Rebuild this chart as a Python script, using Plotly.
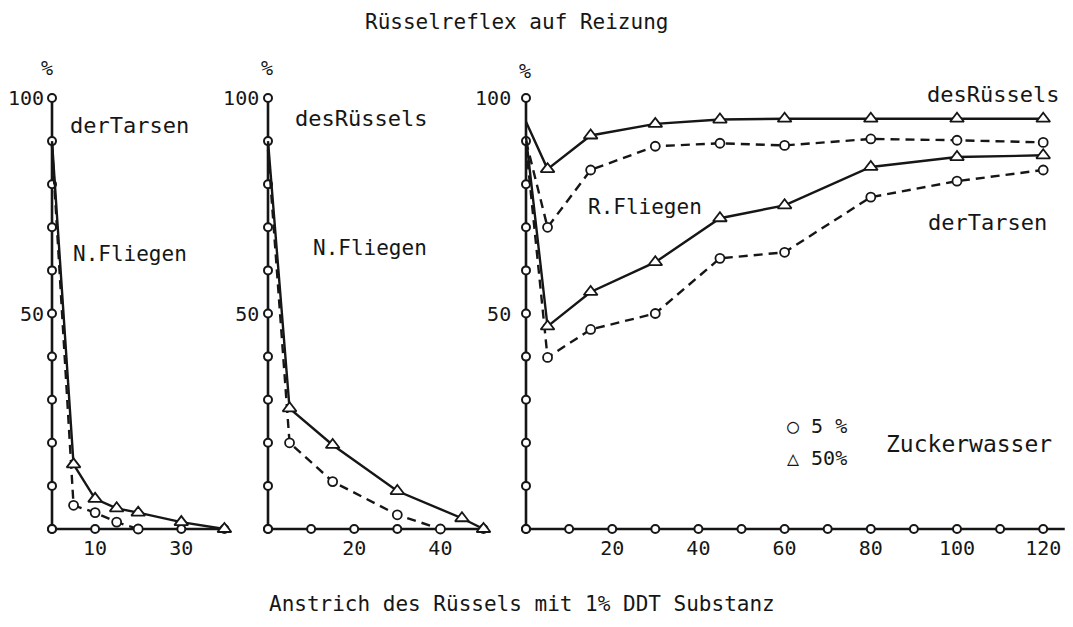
import plotly.graph_objects as go

# ---------------- data ----------------
# Panel 1: N. Fliegen, Reflex der Tarsen
p1_tri_x = [0, 5, 10, 15, 20, 30, 40]
p1_tri_y = [90, 15, 7, 4.8, 3.8, 1.6, 0]
p1_cir_x = [0, 5, 10, 15, 20]
p1_cir_y = [89, 5.5, 3.8, 1.6, 0]

# Panel 2: N. Fliegen, Reflex des Rüssels
p2_tri_x = [0, 5, 15, 30, 45, 50]
p2_tri_y = [90, 28, 19.5, 8.8, 2.5, 0]
p2_cir_x = [0, 5, 15, 30, 40]
p2_cir_y = [88, 20, 11, 3.3, 0]

# Panel 3: R. Fliegen
p3_x = [0, 5, 15, 30, 45, 60, 80, 100, 120]
p3_ruessel_tri = [94.5, 83.5, 91.3, 94, 95, 95.2, 95.2, 95.2, 95.2]
p3_ruessel_cir = [90, 70, 83.3, 88.8, 89.5, 89, 90.5, 90.2, 89.7]
p3_tarsen_tri = [91, 47, 55, 61.9, 72.1, 75.1, 84, 86.3, 86.7]
p3_tarsen_cir = [89, 39.8, 46.3, 50, 62.8, 64.2, 77, 80.7, 83.3]

# axis tick circles
y_ticks = [0, 10, 20, 30, 40, 50, 60, 70, 80, 90, 100]
p1_xticks = [0, 10, 20, 30, 40]
p2_xticks = [0, 10, 20, 30, 40, 50]
p3_xticks = [0, 10, 20, 30, 40, 50, 60, 70, 80, 90, 100, 110, 120]
p3_xaxis_end = 125

p1_xlabels = [10, 30]
p2_xlabels = [20, 40]
p3_xlabels = [20, 40, 60, 80, 100, 120]
y_labels = [50, 100]

title_top = "Rüsselreflex auf Reizung"
title_bottom = "Anstrich des Rüssels mit 1% DDT Substanz"

# ---------------- styling ----------------
INK = "#161616"
FONT = "DejaVu Sans Mono"
W, H = 1073, 627
LW = 2.4
DASH = "9px,6px"

fig = go.Figure()


def sizes(n, s):
    return [0] + [s] * (n - 1)


def add_series(x, y, xa, ya, symbol, dash):
    fig.add_trace(go.Scatter(
        x=x, y=y, xaxis=xa, yaxis=ya, mode="lines+markers",
        line=dict(color=INK, width=LW, dash=dash),
        marker=dict(symbol=symbol, size=sizes(len(x), 12 if "triangle" in symbol else 9),
                    color="#ffffff", opacity=1, line=dict(color=INK, width=1.8)),
        cliponaxis=False, showlegend=False, hoverinfo="skip"))


def add_axes(xticks, xa, ya, xend=None, filled_end=False):
    xe = xend if xend is not None else xticks[-1]
    fig.add_trace(go.Scatter(x=[0, 0], y=[0, 100], xaxis=xa, yaxis=ya, mode="lines",
                             line=dict(color=INK, width=2.6), cliponaxis=False,
                             showlegend=False, hoverinfo="skip"))
    fig.add_trace(go.Scatter(x=[0, xe], y=[0, 0], xaxis=xa, yaxis=ya, mode="lines",
                             line=dict(color=INK, width=2.6), cliponaxis=False,
                             showlegend=False, hoverinfo="skip"))
    fig.add_trace(go.Scatter(x=[0] * len(y_ticks), y=y_ticks, xaxis=xa, yaxis=ya, mode="markers",
                             marker=dict(symbol="circle", size=8, color="white",
                                         line=dict(color=INK, width=2)),
                             cliponaxis=False, showlegend=False, hoverinfo="skip"))
    cols = ["white"] * len(xticks)
    if filled_end:
        cols[-1] = INK
    fig.add_trace(go.Scatter(x=xticks, y=[0] * len(xticks), xaxis=xa, yaxis=ya, mode="markers",
                             marker=dict(symbol="circle", size=8, color=cols,
                                         line=dict(color=INK, width=2)),
                             cliponaxis=False, showlegend=False, hoverinfo="skip"))


# panel 1
add_axes(p1_xticks, "x", "y", filled_end=True)
add_series(p1_cir_x, p1_cir_y, "x", "y", "circle", DASH)
add_series(p1_tri_x, p1_tri_y, "x", "y", "triangle-up", "solid")
# panel 2
add_axes(p2_xticks, "x2", "y2", filled_end=True)
add_series(p2_cir_x, p2_cir_y, "x2", "y2", "circle", DASH)
add_series(p2_tri_x, p2_tri_y, "x2", "y2", "triangle-up", "solid")
# panel 3
add_axes(p3_xticks, "x3", "y3", xend=p3_xaxis_end)
add_series(p3_x, p3_ruessel_cir, "x3", "y3", "circle", DASH)
add_series(p3_x, p3_ruessel_tri, "x3", "y3", "triangle-up", "solid")
add_series(p3_x, p3_tarsen_cir, "x3", "y3", "circle", DASH)
add_series(p3_x, p3_tarsen_tri, "x3", "y3", "triangle-up", "solid")

# ---------------- layout (pixel geometry) ----------------
PX = 4.31   # pixels per unit on all axes
Y0 = 529    # pixel row of y = 0
YR = [-1.2, 106]
ydom = [1 - (Y0 - YR[0] * PX) / H, 1 - (Y0 - YR[1] * PX) / H]


def xdom(x0px, rng):
    return [(x0px + rng[0] * PX) / W, (x0px + rng[1] * PX) / W]


X1R, X2R, X3R = [-1.6, 43], [-1.8, 53], [-3.2, 126.5]
tickfont = dict(family=FONT, size=20, color=INK)

common_x = dict(showgrid=False, zeroline=False, showline=False, ticks="",
                tickfont=tickfont, fixedrange=True)
common_y = dict(showgrid=False, zeroline=False, showline=False, ticks="",
                tickfont=tickfont, range=YR, domain=ydom, tickvals=y_labels,
                fixedrange=True)

fig.update_layout(
    width=W, height=H, margin=dict(l=0, r=0, t=0, b=0),
    paper_bgcolor="white", plot_bgcolor="white",
    xaxis=dict(common_x, range=X1R, domain=xdom(52, X1R), anchor="y", tickvals=p1_xlabels),
    xaxis2=dict(common_x, range=X2R, domain=xdom(268, X2R), anchor="y2", tickvals=p2_xlabels),
    xaxis3=dict(common_x, range=X3R, domain=xdom(526, X3R), anchor="y3", tickvals=p3_xlabels),
    yaxis=dict(common_y, anchor="x"),
    yaxis2=dict(common_y, anchor="x2"),
    yaxis3=dict(common_y, anchor="x3"),
)


def txt(s, xpx, ypx, size=21, anchor="left"):
    fig.add_annotation(text=s, x=xpx / W, y=1 - ypx / H, xref="paper", yref="paper",
                       xanchor=anchor, yanchor="middle", showarrow=False,
                       font=dict(family=FONT, size=size, color=INK))


txt(title_top, 516, 22, 21, "center")
txt(title_bottom, 522, 604, 21, "center")
txt("%", 47, 68, 20, "center")
txt("%", 267, 68, 20, "center")
txt("%", 525, 71, 20, "center")
txt("derTarsen", 68, 125, 22)
txt("N.Fliegen", 71, 254, 21)
txt("desRüssels", 293, 118, 22)
txt("N.Fliegen", 311, 248, 21)
txt("R.Fliegen", 586, 207, 21)
txt("desRüssels", 925, 94, 22)
txt("derTarsen", 926, 222, 22)
txt("○ 5 %", 785, 426, 20)
txt("△ 50%", 785, 458, 20)
txt("Zuckerwasser", 884, 444, 23)

fig.write_html("out.html", config={"displayModeBar": False},
               post_script="document.body.style.margin='0';document.body.style.overflow='hidden';")
